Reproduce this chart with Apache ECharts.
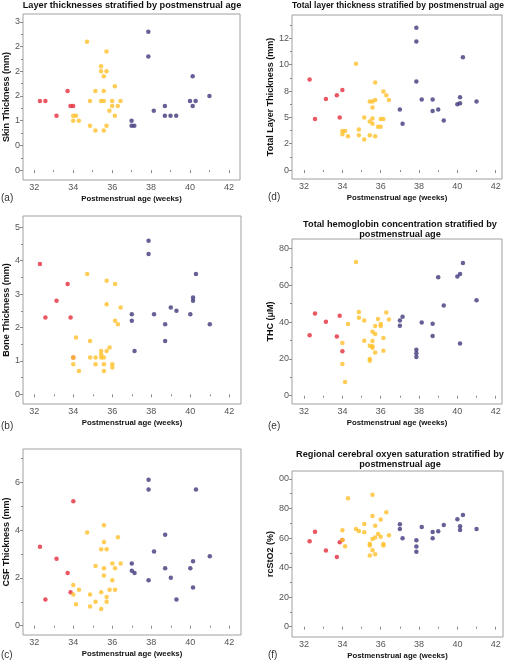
<!DOCTYPE html>
<html><head><meta charset="utf-8">
<script src="https://cdn.jsdelivr.net/npm/echarts@6/dist/echarts.min.js"></script>
<style>html,body{margin:0;padding:0;background:#fff}#c{width:510px;height:661px}</style>
</head><body><div id="c"></div>
<script>
// ---- shared x axis ----
const ageTicks = [32, 34, 36, 38, 40, 42];
const ageMinorTicks = [33, 35, 37, 39, 41];

// ---- (a) skin thickness ----
const skinTicks = [0, 0.5, 1, 1.5, 2, 2.5, 3];
const skinTickLabels = ['0', '0', '1', '2', '2', '2', '3'];
const skinMinor = [0.25, 0.75, 1.25, 1.75, 2.25, 2.75];
const skinRed = [[32.29,1.4],[32.57,1.4],[33.14,1.1],[33.71,1.6],[33.86,1.3],[34.0,1.3]];
const skinYellow = [[34.71,2.6],[34.0,1.1],[34.14,1.1],[34.0,1.0],[34.29,1.0],[34.86,1.4],[34.86,0.9],[35.14,1.6],[35.14,0.8],[35.43,2.1],[35.43,2.0],[35.43,1.4],[35.57,1.9],[35.57,1.6],[35.57,1.4],[35.57,0.8],[35.71,2.4],[35.71,2.0],[35.71,0.9],[35.86,1.2],[36.0,1.4],[36.0,1.3],[36.14,1.7],[36.14,1.1],[36.29,1.3],[36.43,1.4]];
const skinBlue = [[37.0,1.0],[37.0,0.9],[37.14,0.9],[37.86,2.8],[37.86,2.3],[38.14,1.2],[38.71,1.3],[38.71,1.1],[39.0,1.1],[39.29,1.1],[40.0,1.4],[40.14,1.9],[40.14,1.3],[40.29,1.4],[41.0,1.5]];

// ---- (b) bone thickness ----
const boneTicks = [0, 1, 2, 3, 4, 5];
const boneTickLabels = ['0', '1', '2', '3', '4', '5'];
const boneMinor = [0.5, 1.5, 2.5, 3.5, 4.5];
const boneRed = [[32.29,3.9],[32.57,2.3],[33.14,2.8],[33.71,3.3],[33.86,2.3],[34.0,1.1]];
const boneYellow = [[34.71,3.6],[35.71,3.4],[36.14,3.3],[35.71,2.7],[36.43,2.6],[36.14,2.2],[36.29,2.1],[34.14,1.7],[34.86,1.6],[35.86,1.4],[35.43,1.3],[35.71,1.3],[35.43,1.2],[34.0,1.1],[34.86,1.1],[35.14,1.1],[35.43,1.1],[35.57,1.1],[34.0,0.9],[35.14,0.9],[35.57,0.9],[36.0,0.9],[36.0,0.8],[34.29,0.7],[35.57,0.7]];
const boneBlue = [[37.86,4.6],[37.86,4.2],[40.29,3.6],[40.14,2.9],[40.14,2.8],[39.0,2.6],[39.29,2.5],[37.0,2.4],[38.14,2.4],[40.0,2.4],[37.0,2.2],[38.71,2.1],[41.0,2.1],[38.71,1.6],[37.14,1.3]];

// ---- (c) CSF thickness ----
const csfTicks = [0, 2, 4, 6];
const csfTickLabels = ['0', '2', '4', '6'];
const csfMinor = [1, 3, 5, 7];
const csfRed = [[32.29,3.3],[32.57,1.1],[33.14,2.8],[33.71,2.2],[33.86,1.4],[34.0,5.2]];
const csfYellow = [[34.71,3.9],[35.57,4.2],[35.57,3.5],[36.29,3.7],[35.43,3.2],[35.71,3.2],[36.0,2.6],[36.43,2.6],[35.14,2.5],[35.57,2.4],[36.14,2.4],[35.57,2.1],[36.0,1.9],[34.0,1.7],[34.29,1.5],[35.86,1.5],[36.14,1.5],[35.43,1.4],[34.0,1.3],[34.86,1.3],[35.71,1.2],[35.14,1.0],[35.71,1.0],[34.14,0.9],[34.86,0.8],[35.43,0.7]];
const csfBlue = [[37.86,6.1],[37.86,5.7],[40.29,5.7],[38.71,3.8],[38.14,3.1],[41.0,2.9],[40.14,2.7],[37.0,2.6],[37.0,2.3],[37.14,2.2],[38.71,2.4],[40.0,2.4],[39.0,2.0],[37.86,1.9],[40.14,1.6],[39.29,1.1]];

// ---- (d) total layer thickness ----
const totalTicks = [0, 2.5, 5, 7.5, 10, 12.5];
const totalTickLabels = ['0', '2', '5', '8', '10', '12'];
const totalMinor = [1.25, 3.75, 6.25, 8.75, 11.25, 13.75];
const totalRed = [[32.29,8.6],[32.57,4.85],[33.14,6.75],[33.71,7.1],[33.86,5.0],[34.0,7.6]];
const totalYellow = [[34.71,10.1],[35.71,8.3],[36.14,7.45],[36.29,7.1],[36.43,6.65],[35.43,6.5],[35.57,6.5],[35.71,6.65],[35.57,5.95],[35.14,5.0],[35.57,4.9],[35.43,4.6],[35.57,4.4],[36.0,4.85],[36.14,4.85],[35.86,4.1],[36.0,4.1],[34.0,3.7],[34.14,3.7],[34.86,3.85],[34.0,3.4],[34.29,3.2],[34.86,3.3],[35.43,3.3],[35.71,3.2],[35.14,2.9]];
const totalBlue = [[37.86,13.5],[37.86,12.2],[37.86,8.4],[40.29,10.7],[38.14,6.7],[38.71,6.7],[38.71,5.6],[39.0,5.75],[39.29,4.7],[37.0,5.75],[37.14,4.4],[40.0,6.25],[40.14,6.35],[40.14,6.9],[41.0,6.5]];

// ---- (e) total hemoglobin concentration ----
const thcTicks = [0, 20, 40, 60, 80];
const thcTickLabels = ['0', '20', '40', '60', '80'];
const thcMinor = [10, 30, 50, 70];
const thcRed = [[32.29,32.8],[32.57,44.7],[33.14,40.2],[33.71,32.2],[33.86,43.4],[34.0,24.1]];
const thcYellow = [[34.71,72.6],[34.86,45.4],[36.29,45.2],[34.86,42.4],[35.86,41.6],[36.43,41.4],[35.14,40.9],[34.29,38.9],[36.0,38.9],[36.0,37.8],[35.71,37.8],[35.57,34.8],[35.71,33.5],[36.14,31.3],[35.14,29.9],[35.57,29.7],[34.0,28.6],[35.43,27.1],[35.57,26.8],[35.57,26.1],[36.14,24.4],[35.71,23.5],[35.43,19.9],[35.43,19.0],[34.0,17.2],[34.14,7.4]];
const thcBlue = [[40.29,72.0],[40.14,66.1],[40.0,64.8],[39.0,64.3],[41.0,51.9],[39.29,49.0],[37.14,42.9],[37.0,40.9],[37.0,38.0],[38.14,39.8],[38.71,39.1],[38.71,32.4],[40.14,28.4],[37.86,25.0],[37.86,23.0],[37.86,21.0]];

// ---- (f) regional cerebral oxygen saturation ----
const rcsoTicks = [0, 20, 40, 60, 80, 100];
const rcsoTickLabels = ['0', '20', '40', '60', '80', '00'];
const rcsoMinor = [10, 30, 50, 70, 90];
const rcsoRed = [[32.29,57.8],[32.57,64.3],[33.14,51.5],[33.71,47.2],[33.86,57.1],[34.0,58.7]];
const rcsoYellow = [[35.57,89.4],[34.29,86.9],[36.29,77.4],[35.57,74.9],[36.0,72.5],[35.71,68.4],[35.14,69.5],[34.71,66.1],[34.86,64.8],[34.0,65.2],[35.14,63.9],[36.43,61.9],[35.86,62.8],[36.0,60.9],[35.71,60.3],[35.57,59.4],[34.0,58.7],[36.14,56.0],[36.14,54.9],[35.43,56.2],[35.43,54.9],[34.14,54.4],[35.57,51.7],[35.71,49.0],[35.43,48.1]];
const rcsoBlue = [[40.29,75.6],[40.0,72.7],[40.14,68.0],[40.14,65.5],[41.0,66.1],[39.29,68.8],[39.0,64.6],[38.71,64.1],[38.71,59.8],[38.14,67.5],[37.0,69.3],[37.0,66.1],[37.14,59.8],[37.86,58.5],[37.86,54.2],[37.86,50.8]];

const COLORS = ['#e52d3c', '#ffc12a', '#3f3a7c'];
const FONT = 'Liberation Sans, Arial, sans-serif';
const xName = 'Postmenstrual age (weeks)';

const panels = [
  {grid:{left:23,top:14,width:217,height:166}, x:[31.42,42.57], y:[-0.2,3.16], ticks:skinTicks, labels:skinTickLabels, minor:skinMinor, name:'Skin Thickness (mm)', gap:12, data:[skinRed,skinYellow,skinBlue]},
  {grid:{left:23,top:216,width:218,height:188}, x:[31.42,42.6], y:[-0.29,5.34], ticks:boneTicks, labels:boneTickLabels, minor:boneMinor, name:'Bone Thickness (mm)', gap:12, data:[boneRed,boneYellow,boneBlue]},
  {grid:{left:23,top:449,width:218,height:186}, x:[31.42,42.6], y:[-0.39,7.39], ticks:csfTicks, labels:csfTickLabels, minor:csfMinor, name:'CSF Thickness (mm)', gap:12, data:[csfRed,csfYellow,csfBlue]},
  {grid:{left:292,top:15,width:210,height:164}, x:[31.37,42.33], y:[-0.85,14.72], ticks:totalTicks, labels:totalTickLabels, minor:totalMinor, name:'Total Layer Thickness (mm)', gap:16, data:[totalRed,totalYellow,totalBlue]},
  {grid:{left:292,top:239,width:210,height:165}, x:[31.37,42.33], y:[-4.5,85.1], ticks:thcTicks, labels:thcTickLabels, minor:thcMinor, name:'THC (\u03bcM)', gap:16, data:[thcRed,thcYellow,thcBlue]},
  {grid:{left:292,top:471,width:211,height:166}, x:[31.37,42.38], y:[-7.0,105.4], ticks:rcsoTicks, labels:rcsoTickLabels, minor:rcsoMinor, name:'rcStO2 (%)', gap:16, data:[rcsoRed,rcsoYellow,rcsoBlue]}
];

const grid = [], xAxis = [], yAxis = [], series = [];
function labelFor(ticks, labels){
  return function(v){
    let best = 0, bd = Infinity;
    ticks.forEach((t,i)=>{ const d=Math.abs(t-v); if(d<bd){bd=d;best=i;} });
    return labels[best];
  };
}
panels.forEach((p, i) => {
  grid.push(Object.assign({show:true, borderColor:'#a0a0a0', borderWidth:1, backgroundColor:'#fff', containLabel:false}, p.grid));
  const baseX = {type:'value', gridIndex:i, position:'bottom', min:p.x[0], max:p.x[1], splitLine:{show:false}, axisLine:{show:false}};
  xAxis.push(Object.assign({}, baseX, {
    axisTick:{show:true, length:3, lineStyle:{color:'#8a8a8a'}, customValues:ageTicks},
    axisLabel:{show:true, margin:3, color:'#555', fontFamily:FONT, fontSize:9, customValues:ageTicks, formatter:v=>String(Math.round(v))},
    name:xName, nameLocation:'middle', nameGap:15,
    nameTextStyle:{color:'#111', fontFamily:FONT, fontWeight:'bold', fontSize:7.8}
  }));
  xAxis.push(Object.assign({}, baseX, {
    axisTick:{show:true, length:2, lineStyle:{color:'#8a8a8a'}, customValues:ageMinorTicks},
    axisLabel:{show:false}
  }));
  const baseY = {type:'value', gridIndex:i, position:'left', min:p.y[0], max:p.y[1], splitLine:{show:false}, axisLine:{show:false}};
  yAxis.push(Object.assign({}, baseY, {
    axisTick:{show:true, length:3, lineStyle:{color:'#8a8a8a'}, customValues:p.ticks},
    axisLabel:{show:true, margin:3, color:'#555', fontFamily:FONT, fontSize:9, customValues:p.ticks, formatter:labelFor(p.ticks, p.labels)},
    name:p.name, nameLocation:'middle', nameRotate:90, nameGap:p.gap,
    nameTextStyle:{color:'#111', fontFamily:FONT, fontWeight:'bold', fontSize:9}
  }));
  yAxis.push(Object.assign({}, baseY, {
    axisTick:{show:true, length:2, lineStyle:{color:'#8a8a8a'}, customValues:p.minor},
    axisLabel:{show:false}
  }));
  p.data.forEach((d, k) => {
    series.push({type:'scatter', xAxisIndex:2*i, yAxisIndex:2*i, data:d, symbol:'circle', symbolSize:4.5,
      itemStyle:{color:COLORS[k]}, silent:true, animation:false});
  });
});

const titleStyle = {color:'#111', fontFamily:FONT, fontWeight:'bold', fontSize:9.2, lineHeight:10};
const titleStyleD = Object.assign({}, titleStyle, {fontSize:8.5});
const tagStyle = {color:'#333', fontFamily:FONT, fontWeight:'normal', fontSize:10};
const title = [
  {text:'Layer thicknesses stratified by postmenstrual age', left:132, top:0, textAlign:'center', textStyle:titleStyle},
  {text:'Total layer thickness stratified by postmenstrual age', left:398, top:1, textAlign:'center', textStyle:titleStyleD},
  {text:'Total hemoglobin concentration stratified by\npostmenstrual age', left:400, top:219, textAlign:'center', textStyle:titleStyle},
  {text:'Regional cerebral oxyen saturation stratified by\npostmenstrual age', left:400, top:449, textAlign:'center', textStyle:titleStyle},
  {text:'(a)', left:1, top:193, textStyle:tagStyle},
  {text:'(b)', left:1, top:421, textStyle:tagStyle},
  {text:'(c)', left:1, top:650, textStyle:tagStyle},
  {text:'(d)', left:268, top:192, textStyle:tagStyle},
  {text:'(e)', left:268, top:421, textStyle:tagStyle},
  {text:'(f)', left:268, top:650, textStyle:tagStyle}
].map(t => Object.assign({padding:0}, t));

const chart = echarts.init(document.getElementById('c'), null, {renderer:'canvas'});
chart.setOption({animation:false, backgroundColor:'#fff', title, grid, xAxis, yAxis, series});
</script></body></html>
